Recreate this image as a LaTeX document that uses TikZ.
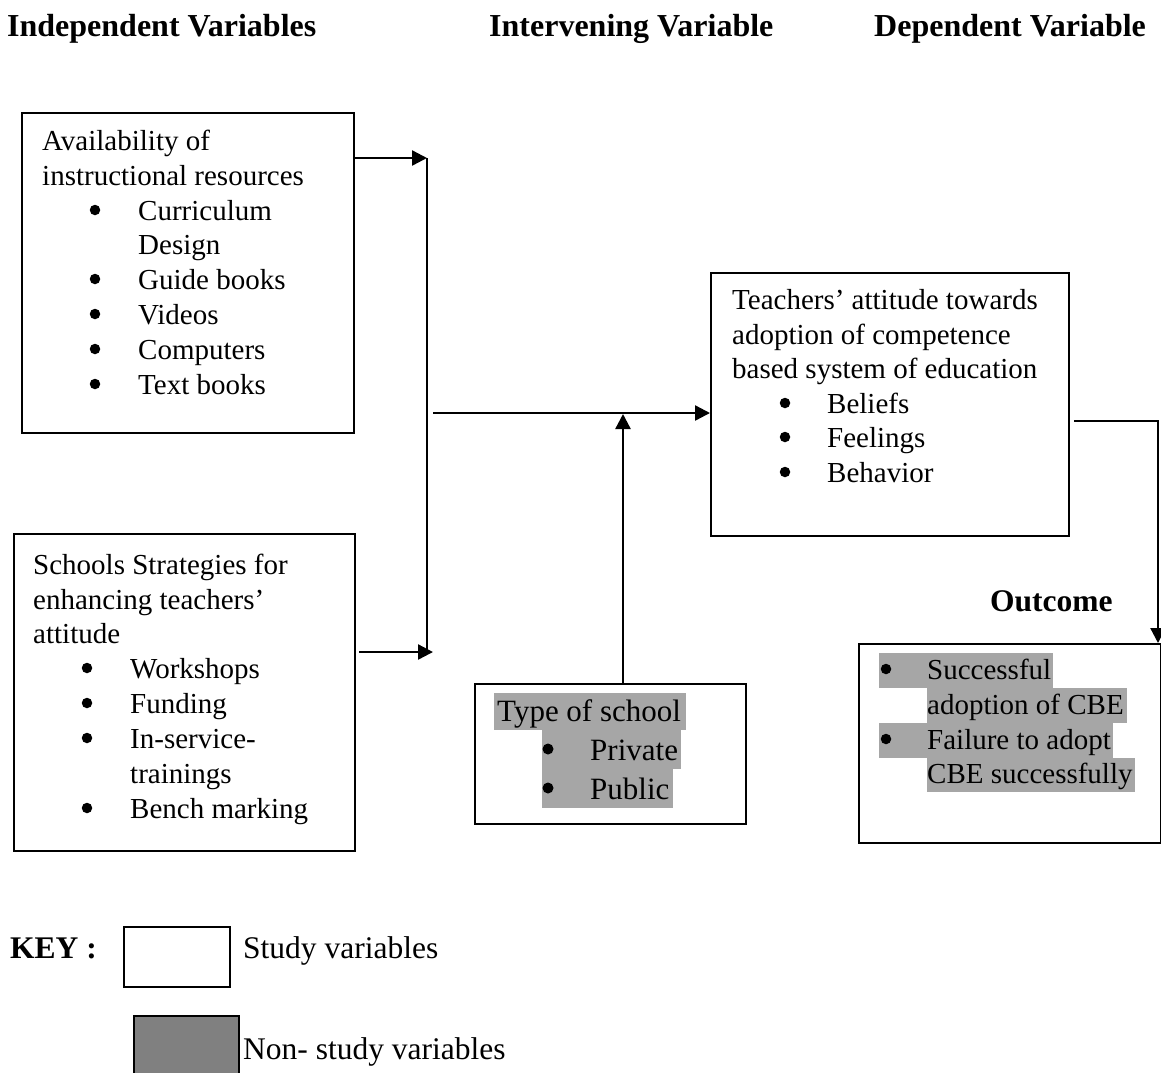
\documentclass[tikz,border=0pt]{standalone}
\usepackage{fontspec}
\setmainfont{Liberation Serif}
\usetikzlibrary{arrows.meta}
\definecolor{hl}{HTML}{A6A6A6}
\definecolor{keygray}{HTML}{808080}
\tikzset{
  box/.style={draw=black, line width=1.8pt, inner sep=0pt, anchor=north west},
  txt/.style={anchor=base west, inner sep=0pt, font=\fontsize{29}{35}\selectfont},
  bul/.style={circle, fill=black, draw=none, inner sep=0pt, minimum size=10.5pt},
  head/.style={anchor=base west, inner sep=0pt, font=\fontsize{32}{38}\selectfont\bfseries},
  keytxt/.style={anchor=base west, inner sep=0pt, font=\fontsize{31.5}{38}\selectfont},
  conn/.style={line width=2.4pt},
  arr/.style={line width=2.4pt, -{Triangle[length=15pt,width=15pt]}},
  hlbox/.style={fill=hl, draw=none}
}
\begin{document}
\begin{tikzpicture}[x=1pt,y=-1pt]
\useasboundingbox (0,0) rectangle (1161,1072);

% headers
\node[head] (h1) at (7,36) {Independent Variables};
\node[head] (h2) at (489,36) {Intervening Variable};
\node[head] (h3) at (874,36) {Dependent Variable};

% boxes
\node[box, minimum width=332pt, minimum height=320pt] (b1) at (21,112) {};
\node[box, minimum width=341pt, minimum height=317pt] (b2) at (13,533) {};
\node[box, minimum width=358pt, minimum height=263pt] (b3) at (710,272) {};
\node[box, minimum width=271pt, minimum height=140pt] (b4) at (474,683) {};
\node[box, minimum width=302pt, minimum height=199pt] (b5) at (858,643) {};

% highlights (non-study variables)
\fill[hl] (494,693) rectangle (686,730);
\fill[hl] (542,730) rectangle (681,769);
\fill[hl] (542,769) rectangle (673,808);
\fill[hl] (879,653) rectangle (1053,688);
\fill[hl] (927,688) rectangle (1127,723);
\fill[hl] (879,723) rectangle (1113,758);
\fill[hl] (927,758) rectangle (1135,792);

% box 1 text
\node[txt] (t11) at (42,150) {Availability of};
\node[txt] (t12) at (42,185) {instructional resources};
\node[bul] (p11) at (95,210) {};
\node[txt] (t13) at (138,220) {Curriculum};
\node[txt] (t14) at (138,254) {Design};
\node[bul] (p12) at (95,279) {};
\node[txt] (t15) at (138,289) {Guide books};
\node[bul] (p13) at (95,314) {};
\node[txt] (t16) at (138,324) {Videos};
\node[bul] (p14) at (95,349) {};
\node[txt] (t17) at (138,359) {Computers};
\node[bul] (p15) at (95,384) {};
\node[txt] (t18) at (138,394) {Text books};

% box 2 text
\node[txt] (t21) at (33,574) {Schools Strategies for};
\node[txt] (t22) at (33,609) {enhancing teachers’};
\node[txt] (t23) at (33,643) {attitude};
\node[bul] (p21) at (87,668) {};
\node[txt] (t24) at (130,678) {Workshops};
\node[bul] (p22) at (87,703) {};
\node[txt] (t25) at (130,713) {Funding};
\node[bul] (p23) at (87,738) {};
\node[txt] (t26) at (130,748) {In-service-};
\node[txt] (t27) at (130,783) {trainings};
\node[bul] (p24) at (87,808) {};
\node[txt] (t28) at (130,818) {Bench marking};

% box 3 text
\node[txt] (t31) at (732,309) {Teachers’ attitude towards};
\node[txt] (t32) at (732,344) {adoption of competence};
\node[txt] (t33) at (732,378) {based system of education};
\node[bul] (p31) at (785,403) {};
\node[txt] (t34) at (827,413) {Beliefs};
\node[bul] (p32) at (785,437) {};
\node[txt] (t35) at (827,447) {Feelings};
\node[bul] (p33) at (785,472) {};
\node[txt] (t36) at (827,482) {Behavior};

% box 4 text
\node[txt, font=\fontsize{31}{39}\selectfont] (t41) at (497,721) {Type of school};
\node[bul, minimum size=11pt] (p41) at (548,749) {};
\node[txt, font=\fontsize{31}{39}\selectfont] (t42) at (590,760) {Private};
\node[bul, minimum size=11pt] (p42) at (548,788) {};
\node[txt, font=\fontsize{31}{39}\selectfont] (t43) at (590,799) {Public};

% outcome
\node[head, font=\fontsize{31.5}{38}\selectfont\bfseries] (oc) at (990,611) {Outcome};
\node[bul] (p51) at (886,669) {};
\node[txt] (t51) at (927,679) {Successful};
\node[txt] (t52) at (927,714) {adoption of CBE};
\node[bul] (p52) at (886,739) {};
\node[txt] (t53) at (927,749) {Failure to adopt};
\node[txt] (t54) at (927,783) {CBE successfully};

% key
\node[head, font=\fontsize{31.5}{38}\selectfont\bfseries] (key) at (10,958) {KEY :};
\node[box, line width=1.6pt, minimum width=106pt, minimum height=60pt] (k1) at (123,926) {};
\node[keytxt] (k1t) at (243,958) {Study variables};
\node[box, line width=1.6pt, fill=keygray, minimum width=105pt, minimum height=70pt] (k2) at (133,1015) {};
\node[keytxt] (k2t) at (243,1059) {Non- study variables};

% connectors
\coordinate (j1) at (427,158);
\coordinate (j2) at (427,652);
\coordinate (j3s) at (359,652);
\coordinate (j3e) at (433,652);
\coordinate (m0) at (433,413);
\coordinate (u0) at (623,683);
\coordinate (u1) at (623,414);
\coordinate (r0) at (1074,421);
\coordinate (r1) at (1158,421);

\draw[arr] (b1.east |- j1) -- (j1);
\draw[conn] (j1) -- (j2);
\draw[arr] (j3s) -- (j3e);
\draw[arr] (m0) -- (b3.west |- m0);
\draw[arr] (u0) -- (u1);
\draw[arr] (r0) -- (r1) -- (b5.north -| r1);
\end{tikzpicture}
\end{document}
